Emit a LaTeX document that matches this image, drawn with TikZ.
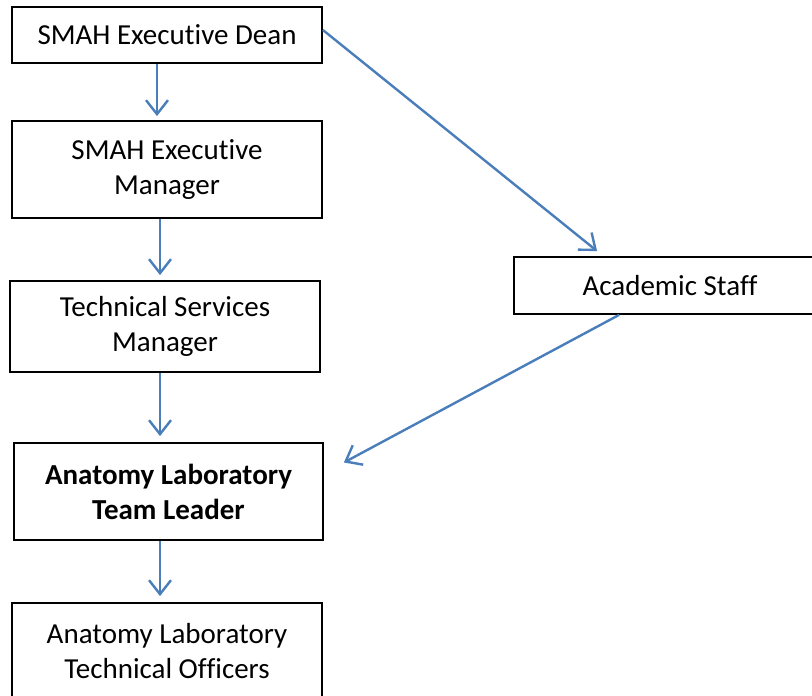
\documentclass[tikz,border=0pt]{standalone}
\usepackage{fontspec}
\setmainfont[Ligatures=NoCommon]{Carlito}
\usepackage{xcolor}
\usepackage{tikz}
\usetikzlibrary{arrows.meta}
\usetikzlibrary{positioning}
\definecolor{linkblue}{HTML}{4A7EBB}

\begin{document}
\begin{tikzpicture}[x=1pt,y=1pt,yscale=-1,xscale=1,
    orgbox/.style={draw=black,line width=1.8pt,fill=white,inner sep=0pt,
      align=center,font=\fontsize{29}{35}\selectfont,minimum width=310pt},
    link/.style={draw=linkblue,line width=2.4pt,
      -{Straight Barb[length=14pt,width=22pt,line width=2.4pt]}}]
  \useasboundingbox (0,0) rectangle (812,696);

    %Shape: Rectangle [id:dean]
    \node [orgbox,minimum height=56pt] (dean) at (167,35) {SMAH Executive Dean};
    %Shape: Rectangle [id:mgr]
    \node [orgbox,minimum height=97pt] (mgr) at (167,169.5) {SMAH Executive\\Manager};
    %Shape: Rectangle [id:tsm]
    \node [orgbox,minimum height=91pt] (tsm) at (165,326.5) {Technical Services\\Manager};
    %Shape: Rectangle [id:leader]
    \node [orgbox,minimum height=97pt,minimum width=309pt,font=\fontsize{29}{35}\selectfont\bfseries] (leader) at (168.5,491.5) {Anatomy Laboratory\\Team Leader};
    %Shape: Rectangle [id:officers]
    \node [orgbox,minimum height=96pt] (officers) at (167,651) {Anatomy Laboratory\\Technical Officers};
    %Shape: Rectangle [id:academic]
    \node [orgbox,minimum height=57pt,minimum width=312pt] (academic) at (670,285.5) {Academic Staff};

    % Straight Lines
    \draw [link,shorten >=4pt] ([xshift=-10pt]dean.south) -- ([xshift=-10pt]mgr.north);
    \draw [link,shorten >=5pt] ([xshift=-7pt]mgr.south) -- ([xshift=-5pt]tsm.north);
    \draw [link,shorten >=6pt] ([xshift=-5pt]tsm.south) -- ([xshift=-8.5pt]leader.north);
    \draw [link,shorten >=6pt] ([xshift=-8.5pt]leader.south) -- ([xshift=-7pt]officers.north);
    \draw [link] ([yshift=-5pt]dean.east) -- ([xshift=84pt,yshift=-5pt]academic.north west);
    \draw [link] ([xshift=106pt]academic.south west) -- ([xshift=20pt,yshift=-29pt]leader.east);

  \end{tikzpicture}
\end{document}
